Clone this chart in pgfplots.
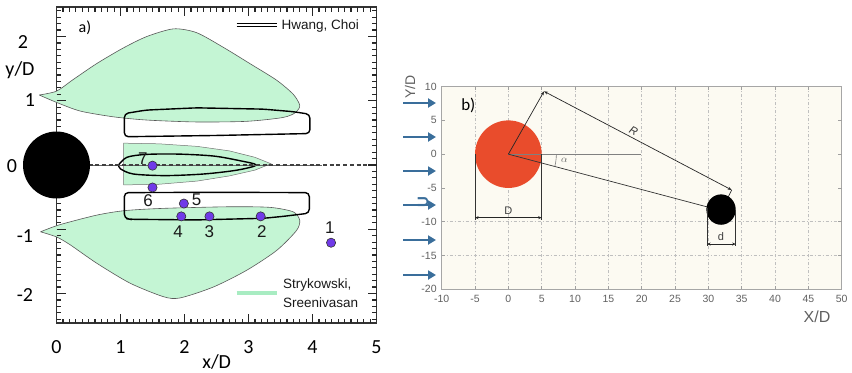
\documentclass[border=0pt]{standalone}
\usepackage{fontspec}
\setmainfont{Liberation Sans}
\newfontfamily\carlito{Carlito}
\usepackage{pgfplots}
\pgfplotsset{compat=1.18}
\usetikzlibrary{arrows.meta}
\newcommand\fs[1]{\fontsize{#1}{#1}\selectfont}
\definecolor{mint}{RGB}{196,245,212}
\definecolor{mintleg}{RGB}{168,236,194}
\definecolor{pur}{RGB}{112,58,232}
\definecolor{redc}{RGB}{233,76,44}
\definecolor{bluea}{RGB}{58,110,155}
\definecolor{bgb}{RGB}{252,250,242}
\begin{document}
\begin{tikzpicture}
\path[draw=none] (0,0) rectangle (852pt,-372pt);
% ================= panel a =================
\begin{axis}[at={(56.5pt,-323pt)}, anchor=south west, scale only axis,
  width=320pt, height=316pt, xmin=0, xmax=5, ymin=-2.46, ymax=2.46, clip=false,
  axis line style={black!80, line width=1.5pt},
  every tick/.style={draw=black!85, line width=1.3pt},
  every minor tick/.style={draw=black!80, line width=1.1pt},
  tick align=inside, major tick length=9pt, minor tick length=4.5pt,
  xtick={0,1,2,3,4,5}, xticklabels={0,1,2,3,4,5},
  minor x tick num=9,
  ytick={-2,-1,0,1,2}, yticklabels={,,,,},
  minor y tick num=9,
  xticklabel style={font=\carlito\fs{20}, anchor=center, yshift=-24pt}]
% green lobes (Strykowski, Sreenivasan)
\addplot[fill=mint, draw=black!65, line width=0.6pt, smooth, tension=0.45] coordinates {
 (-0.27,1.09) (0,1.15) (0.26,1.33) (0.63,1.58) (1.04,1.82) (1.41,2.0) (1.83,2.12)
 (2.19,2.06) (2.61,1.83) (3.02,1.58) (3.44,1.32) (3.70,1.10) (3.80,0.93) (3.74,0.82)
 (3.54,0.74) (2.97,0.68) (2.19,0.67) (1.41,0.70) (0.89,0.75) (0.37,0.84) (0,0.975) (-0.27,1.09)};
\addplot[fill=mint, draw=black!65, line width=0.6pt, smooth, tension=0.45] coordinates {
 (-0.25,-1.04) (0.05,-0.93) (0.63,-0.78) (1.07,-0.71) (1.67,-0.675) (2.71,-0.65) (3.34,-0.66)
 (3.70,-0.73) (3.80,-0.86) (3.75,-1.02) (3.44,-1.33) (2.97,-1.64) (2.45,-1.90) (1.93,-2.07)
 (1.67,-2.05) (1.15,-1.84) (0.63,-1.53) (0.21,-1.24) (0,-1.12) (-0.25,-1.04)};
\addplot[fill=mint, draw=black!55, line width=0.5pt] coordinates {
 (1.05,0.34) (1.6,0.33) (2.2,0.29) (2.7,0.22) (3.1,0.12) (3.35,0.02) (3.1,-0.08)
 (2.7,-0.17) (2.2,-0.25) (1.6,-0.30) (1.05,-0.31)} -- cycle;
% Hwang, Choi contours
\addplot[draw=black, line width=1.4pt, rounded corners=4pt] coordinates {
 (1.06,0.6) (1.06,0.80) (1.40,0.855) (2.19,0.89) (3.23,0.87) (3.70,0.83) (3.96,0.79)
 (3.96,0.49) (2.5,0.46) (1.06,0.44)} -- cycle;
\addplot[draw=black, line width=1.4pt, rounded corners=4pt] coordinates {
 (1.06,-0.6) (1.06,-0.43) (2.5,-0.425) (3.95,-0.43) (3.95,-0.75) (3.54,-0.80)
 (3.23,-0.83) (2.19,-0.855) (1.15,-0.845) (1.06,-0.83)} -- cycle;
\addplot[draw=black, line width=1.4pt, smooth, tension=0.5] coordinates {
 (0.97,0) (1.10,0.12) (1.4,0.165) (1.9,0.17) (2.45,0.14) (2.85,0.07) (3.12,0.0)
 (2.82,-0.08) (2.3,-0.14) (1.7,-0.165) (1.2,-0.14) (1.0,-0.06) (0.97,0)};
% centre line
\addplot[black!60, line width=0.7pt] coordinates {(0.5,0) (4.15,0)};
\addplot[black!75, line width=1.3pt, dash pattern=on 4pt off 2.7pt] coordinates {(0.5,0) (5,0)};
\coordinate (cA) at (axis cs:0,0);
% measurement points
\addplot[only marks, mark=*, mark size=4.6pt, mark options={fill=pur, draw=black!80, line width=0.6pt}]
 coordinates {(4.29,-1.21) (3.19,-0.80) (2.39,-0.80) (1.95,-0.80) (1.99,-0.60) (1.50,-0.35) (1.50,-0.01)};
\begin{scope}[font=\fs{17}, text=black!90]
\node at (axis cs:4.27,-0.98) {1};
\node at (axis cs:3.21,-1.04) {2};
\node at (axis cs:2.39,-1.03) {3};
\node at (axis cs:1.90,-1.04) {4};
\node at (axis cs:2.19,-0.545) {5};
\node at (axis cs:1.43,-0.555) {6};
\node at (axis cs:1.35,0.10) {7};
\end{scope}
\end{axis}
% frame ticks of panel a (ruler-like)
\foreach \k in {1,...,49}{
  \pgfmathsetmacro\X{56.5+6.4*\k}
  \pgfmathsetmacro\L{ifthenelse(mod(\k,10)==0,9,4.5)}
  \draw[black!85, line width=1.2pt] (\X pt,-323pt) -- ++(0pt,\L pt);
  \draw[black!85, line width=1.2pt] (\X pt,-7pt) -- ++(0pt,-\L pt);
}
\foreach \k in {-24,...,24}{
  \pgfmathsetmacro\Y{165-6.43*\k}
  \pgfmathsetmacro\L{ifthenelse(mod(abs(\k),10)==0,9,4.5)}
  \draw[black!85, line width=1.2pt] (56.5pt,-\Y pt) -- ++(\L pt,0pt);
  \draw[black!85, line width=1.2pt] (376.5pt,-\Y pt) -- ++(-\L pt,0pt);
}
\fill[black] (cA) circle (33.5pt);
% y tick labels and axis labels, panel a
\begin{scope}[font=\carlito\fs{20}]
\node at (23pt,-42pt) {2};
\node at (30pt,-100pt) {1};
\node at (12pt,-166pt) {0};
\node at (25pt,-236pt) {-1};
\node at (25pt,-295pt) {-2};
\node at (20pt,-70pt) {y/D};
\node at (216.7pt,-362pt) {x/D};
\node at (85pt,-28pt) {\fs{16}a)};
\end{scope}
% legend panel a
\draw[black, line width=0.8pt] (236.7pt,-23.5pt) -- (276.7pt,-23.5pt);
\draw[black, line width=0.8pt] (236.7pt,-26.8pt) -- (276.7pt,-26.8pt);
\node[anchor=west, inner sep=0pt, font=\fs{13.5}, text=black!90] at (281.5pt,-26pt) {Hwang, Choi};
\draw[mintleg, line width=4pt] (236.7pt,-292.7pt) -- (276.7pt,-292.7pt);
\node[anchor=west, inner sep=0pt, font=\fs{13.5}, text=black!90] at (283pt,-285pt) {Strykowski,};
\node[anchor=west, inner sep=0pt, font=\fs{13.5}, text=black!90] at (283pt,-302.3pt) {Sreenivasan};
% ================= panel b =================
\begin{axis}[at={(441.7pt,-289.3pt)}, anchor=south west, scale only axis,
  width=400pt, height=202.7pt, xmin=-10, xmax=50, ymin=-20, ymax=10, clip=false,
  axis background/.style={fill=bgb},
  axis line style={gray!70, line width=0.7pt},
  every tick/.style={draw=gray!75, line width=0.8pt},
  tick align=inside, major tick length=3.5pt,
  xtick={-10,-5,0,5,10,15,20,25,30,35,40,45,50},
  xticklabels={-10,-5,0,5,10,15,20,25,30,35,40,45,50},
  ytick={-20,-15,-10,-5,0,5,10},
  yticklabels={-20,-15,-10,-5,0,5,10},
  ticklabel style={font=\fs{10.5}, text=gray!75!black},
  xticklabel style={anchor=center, yshift=-10pt},
  yticklabel style={anchor=east, xshift=-1.5pt},
  xmajorgrids,
  grid style={gray!50, line width=0.5pt, dash pattern=on 3pt off 2pt on 1pt off 2pt},
  extra y ticks={-10,-15}, extra y tick labels={,}, extra y tick style={grid=major}]
\fill[redc] (axis cs:0,0) ellipse [x radius=5, y radius=5];
\addplot[gray, line width=0.7pt] coordinates {(0,0) (19.85,0)};
\addplot[black!80, line width=0.7pt] coordinates {(0,0) (29.8,-7.8)};
\addplot[black!85, line width=0.7pt, -{Stealth[length=4pt,width=3pt]}] coordinates {(0,0) (5.35,9.3)};
\addplot[black!85, line width=0.7pt, {Stealth[length=4pt,width=3pt]}-{Stealth[length=4pt,width=3pt]}] coordinates {(5.35,9.3) (33.5,-5.3)};
\addplot[black!85, line width=0.7pt] coordinates {(33.5,-5.3) (33.0,-6.3)};
\addplot[gray, line width=0.6pt, smooth] coordinates {(7.2,0) (7.17,-0.63) (7.09,-1.25) (6.96,-1.83)};
\node[text=gray!80!black, font=\fs{10}] at (axis cs:8.4,-0.9) {$\alpha$};
\addplot[black!80, line width=0.7pt] coordinates {(-5,0) (-5,-9.8)};
\addplot[black!80, line width=0.7pt] coordinates {(5,0) (5,-9.8)};
\addplot[black!85, line width=0.7pt, {Stealth[length=3.5pt,width=3pt]}-{Stealth[length=3.5pt,width=3pt]}] coordinates {(-5,-9.4) (5,-9.4)};
\node[text=black!75, font=\fs{11}] at (axis cs:0,-8.4) {D};
\fill[black] (axis cs:31.9,-8.2) ellipse [x radius=2.2, y radius=2.25];
\addplot[black!80, line width=0.7pt] coordinates {(29.8,-7.9) (29.8,-13.6)};
\addplot[black!80, line width=0.7pt] coordinates {(34.1,-8.2) (34.1,-13.6)};
\addplot[black!85, line width=0.7pt, {Stealth[length=3.5pt,width=3pt]}-{Stealth[length=3.5pt,width=3pt]}] coordinates {(29.8,-13.3) (34.1,-13.3)};
\node[text=black!75, font=\fs{11}] at (axis cs:31.9,-12.2) {d};
\node[text=black!80, font=\fs{11}\itshape, rotate=-27.7] at (axis cs:18.8,3.5) {R};
\end{axis}
% frame ticks of panel b
\foreach \k in {1,...,11}{
  \pgfmathsetmacro\X{441.7+33.333*\k}
  \draw[gray!75, line width=0.9pt] (\X pt,-289.3pt) -- ++(0pt,3.5pt);
  \draw[gray!75, line width=0.9pt] (\X pt,-86.7pt) -- ++(0pt,-3.5pt);
}
\foreach \k in {1,...,5}{
  \pgfmathsetmacro\Y{86.7+33.77*\k}
  \draw[gray!75, line width=0.9pt] (441.7pt,-\Y pt) -- ++(3.5pt,0pt);
  \draw[gray!75, line width=0.9pt] (841.7pt,-\Y pt) -- ++(-3.5pt,0pt);
}
% inflow arrows
\foreach \yy in {103,137,171,205,240,275}{
  \draw[bluea, line width=2.2pt, -{Triangle[length=8pt,width=9pt]}] (403pt,-\yy pt) -- (436pt,-\yy pt);
}
\node[text=bluea, rotate=90, font=\bfseries\fs{15}] at (423pt,-202pt) {U};
\node[font=\carlito\fs{17}] at (468.3pt,-105pt) {b)};
\node[rotate=90, text=gray!75!black, font=\fs{14}] at (410pt,-87pt) {Y/D};
\node[text=gray!75!black, font=\fs{16}] at (817pt,-317pt) {X/D};
\end{tikzpicture}
\end{document}
